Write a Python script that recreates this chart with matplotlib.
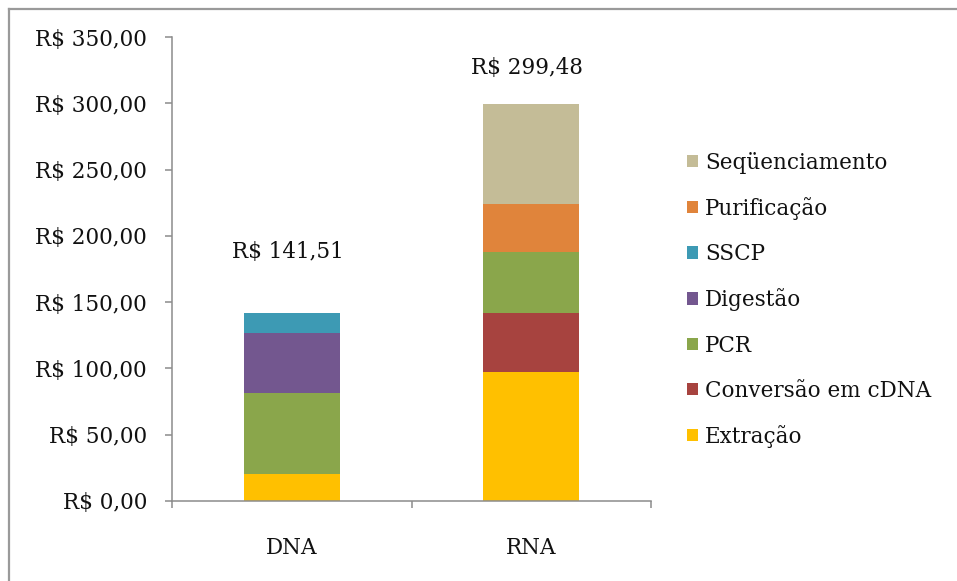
import matplotlib.pyplot as plt
from matplotlib.lines import Line2D
from matplotlib.ticker import FuncFormatter, FixedLocator
import numpy as np

plt.rcParams['font.family'] = ['DejaVu Serif']

categorias = ['DNA', 'RNA']

# custo de cada etapa (R$) por tipo de amostra
extracao = [20.40, 97.50]
conversao = [0.00, 44.50]
pcr = [61.30, 46.10]
digestao = [44.80, 0.00]
sscp = [15.01, 0.00]
purificacao = [0.00, 35.70]
sequenciamento = [0.00, 75.68]

etapas = ['Extração', 'Conversão em cDNA', 'PCR', 'Digestão', 'SSCP',
          'Purificação', 'Seqüenciamento']
valores = [extracao, conversao, pcr, digestao, sscp, purificacao, sequenciamento]
cores = ['#FFC000', '#A7433F', '#8AA64B', '#73578F', '#3D9AB4',
         '#E0843B', '#C4BC97']

FS = 15.5


def reais(v, pos=None):
    return 'R$ ' + ('%.2f' % v).replace('.', ',')


fig = plt.figure(figsize=(9.57, 5.81), dpi=100)
ax = fig.add_axes([172 / 957, 80 / 581, 479 / 957, 464 / 581])

x = np.arange(len(categorias))
base = np.zeros(len(categorias))
handles = []
for nome, vals, cor in zip(etapas, valores, cores):
    b = ax.bar(x, vals, width=0.40, bottom=base, color=cor, label=nome)
    handles.append(b)
    base += np.array(vals)

# total acima de cada coluna
offsets = [61, 36]
for xi, tot, off in zip(x, base, offsets):
    ax.annotate(reais(tot), (xi, tot), xytext=(-4, off), textcoords='offset pixels',
                ha='center', va='center', fontsize=FS, color='#111111')

ax.set_xlim(-0.5, 1.5)
ax.set_ylim(0, 350)
ax.set_yticks(np.arange(0, 351, 50))
ax.yaxis.set_major_formatter(FuncFormatter(reais))

ax.xaxis.set_major_locator(FixedLocator([-0.5, 0.5, 1.5]))
ax.set_xticklabels([])
ax.set_xticks(x, minor=True)
ax.set_xticklabels(categorias, minor=True)
ax.tick_params(axis='x', which='minor', length=0, pad=26, labelsize=FS, labelcolor='#111111')
ax.tick_params(axis='x', which='major', length=5, width=1.1, color='#8c8c8c', direction='out')
ax.tick_params(axis='y', length=5, width=1.1, color='#8c8c8c', pad=13, labelsize=FS,
               labelcolor='#111111')

for s in ['top', 'right']:
    ax.spines[s].set_visible(False)
for s in ['left', 'bottom']:
    ax.spines[s].set_color('#8c8c8c')
    ax.spines[s].set_linewidth(1.1)

leg = fig.legend(handles[::-1], etapas[::-1], loc='center left',
                 bbox_to_anchor=(687 / 957, 0.484), frameon=False, fontsize=FS,
                 handlelength=0.5, handleheight=0.5, handletextpad=0.35,
                 labelspacing=1.08, borderpad=0, borderaxespad=0)
for t in leg.get_texts():
    t.set_color('#111111')

# moldura do gráfico
fig.add_artist(Line2D([8.5 / 957, 8.5 / 957], [0, 1 - 8.5 / 581],
                      transform=fig.transFigure, color='#9a9a9a', lw=1.6))
fig.add_artist(Line2D([8.5 / 957, 1.02], [1 - 8.5 / 581, 1 - 8.5 / 581],
                      transform=fig.transFigure, color='#9a9a9a', lw=1.6))

fig.savefig('out.png', dpi=100)
